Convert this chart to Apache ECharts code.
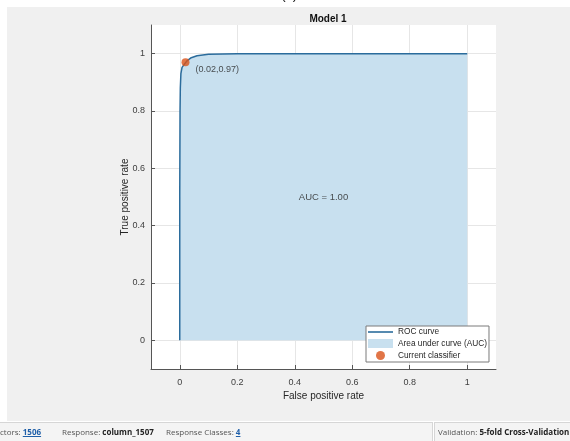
<!DOCTYPE html>
<html>
<head>
<meta charset="utf-8">
<script src="https://cdn.jsdelivr.net/npm/echarts@6/dist/echarts.min.js"></script>
<style>
  html, body { margin: 0; padding: 0; background: #fff; }
  #chart { position: absolute; left: 0; top: 0; width: 570px; height: 441px; }
  .bar { position: absolute; top: 422px; height: 18px; background: #f4f4f4;
         border-top: 1px solid #d6d6d6; border-bottom: 1px solid #d6d6d6;
         font-family: "Open Sans", sans-serif; font-size: 8px; color: #555; }
  .bar span { position: absolute; top: 3px; white-space: nowrap; }
  .bar b { color: #222; }
  .bar u { color: #1f5fa8; font-weight: bold; }
</style>
</head>
<body>
<div id="chart"></div>
<div class="bar" style="left:0;width:432px;border-right:1px solid #d6d6d6">
  <span style="left:0">ctors: <u>1506</u></span>
  <span style="left:62px">Response: <b>column_1507</b></span>
  <span style="left:166px">Response Classes: <u>4</u></span>
</div>
<div class="bar" style="left:434px;width:136px;border-left:1px solid #d6d6d6">
  <span style="left:3px">Validation: <b>5-fold Cross-Validation</b></span>
</div>
<script>
// ROC 曲线数据
const fpr = [0, 0, 0.001, 0.002, 0.004, 0.008, 0.015, 0.025, 0.04, 0.06, 0.1, 0.2, 1]
const tpr = [0, 0.5, 0.8, 0.88, 0.93, 0.952, 0.962, 0.975, 0.986, 0.993, 0.998, 1, 1]
const classifier = [0.02, 0.97]
const aucText = 'AUC = 1.00'
const tickValues = [0, 0.2, 0.4, 0.6, 0.8, 1]

const rocData = fpr.map((x, i) => [x, tpr[i]])
const chart = echarts.init(document.getElementById('chart'))

const axisCommon = {
  type: 'value', min: -0.1, max: 1.1,
  axisLine: { show: true, onZero: false, lineStyle: { color: '#555', width: 1 } },
  axisTick: { show: true, inside: true, length: 4, customValues: tickValues, lineStyle: { color: '#555' } },
  axisLabel: { customValues: tickValues, color: '#404040', fontSize: 9, fontFamily: 'Liberation Sans', margin: 9 },
  splitLine: { show: true, lineStyle: { color: '#e6e6e6', width: 1 } },
  nameLocation: 'middle',
  nameMoveOverlap: false,
  nameTextStyle: { color: '#262626', fontSize: 10, fontFamily: 'Liberation Sans' }
}

chart.setOption({
  animation: false,
  graphic: [
    { type: 'rect', z: -100, shape: { x: 7, y: 7, width: 563, height: 414 }, style: { fill: '#f0f0f0' } },
    { type: 'text', left: 281, top: -12, style: { text: '(c)', fontSize: 14, fill: '#222', fontFamily: 'Liberation Sans' } }
  ],
  title: {
    text: 'Model 1', left: 323, top: 9, textAlign: 'center',
    textStyle: { fontSize: 10, fontWeight: 'bold', color: '#111', fontFamily: 'Liberation Sans' }
  },
  grid: { left: 151, top: 25, right: 74, bottom: 72, show: true, backgroundColor: '#fff', borderWidth: 0 },
  xAxis: { ...axisCommon, name: 'False positive rate', nameGap: 22 },
  yAxis: {
    ...axisCommon, name: 'True positive rate', nameGap: 21,
    axisLabel: { ...axisCommon.axisLabel, margin: 6 }
  },
  legend: {
    orient: 'vertical', left: 366, top: 326,
    padding: [2, 2, 2, 2], itemGap: 3, itemWidth: 25, itemHeight: 9,
    backgroundColor: '#fff', borderColor: '#7a7a7a', borderWidth: 1, borderRadius: 0,
    textStyle: { fontSize: 8.3, color: '#262626', fontFamily: 'Liberation Sans' },
    data: [
      { name: 'ROC curve', icon: 'path://M0,0 L25,0 L25,1.6 L0,1.6 Z' },
      { name: 'Area under curve (AUC)', icon: 'rect' },
      { name: 'Current classifier', icon: 'circle' }
    ]
  },
  series: [
    {
      name: 'Area under curve (AUC)', type: 'line', data: rocData, z: 2,
      symbol: 'none', color: '#c8e0ef',
      lineStyle: { width: 0 },
      areaStyle: { color: '#c8e0ef', opacity: 1 }
    },
    {
      name: 'ROC curve', type: 'line', data: rocData, z: 3,
      symbol: 'none', color: '#2b6c9c',
      lineStyle: { width: 1.5, color: '#2b6c9c' }
    },
    {
      name: 'Current classifier', type: 'scatter', data: [classifier], z: 4,
      symbolSize: 8, color: '#d95319',
      label: {
        show: true, position: 'right', offset: [1, 7],
        formatter: `(${classifier[0].toFixed(2)},${classifier[1].toFixed(2)})`,
        fontSize: 9, color: '#262626', fontFamily: 'Liberation Sans'
      }
    },
    {
      name: 'auc', type: 'scatter', data: [[0.5, 0.5]], z: 4, symbolSize: 0, silent: true,
      label: { show: true, position: 'inside', formatter: aucText, fontSize: 9.5, color: '#262626', fontFamily: 'Liberation Sans' }
    }
  ]
})
</script>
</body>
</html>
